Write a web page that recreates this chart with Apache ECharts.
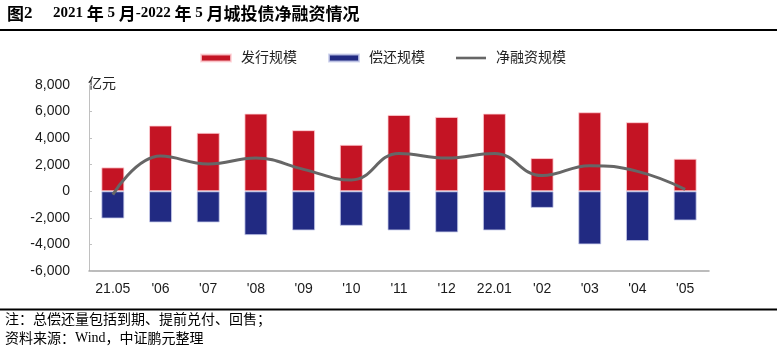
<!DOCTYPE html>
<html>
<head>
<meta charset="utf-8">
<style>
  html, body { margin: 0; padding: 0; background: #fff; }
  #chart { width: 778px; height: 353px; }
</style>
</head>
<body>
<div id="chart"></div>
<script src="https://cdn.jsdelivr.net/npm/echarts@6/dist/echarts.min.js"></script>
<script>
// 月份
var months = ['21.05', "'06", "'07", "'08", "'09", "'10", "'11", "'12", '22.01', "'02", "'03", "'04", "'05"];
// 发行规模 (亿元)
var issue = [1800, 4950, 4400, 5850, 4600, 3500, 5750, 5600, 5850, 2500, 5950, 5200, 2450];
// 偿还规模 (亿元, 负值)
var repay = [-2050, -2350, -2350, -3300, -2950, -2600, -2950, -3100, -2950, -1250, -4000, -3750, -2200];
// 净融资规模 (亿元)
var net = [-250, 2650, 2050, 2500, 1650, 850, 2850, 2500, 2850, 1180, 1930, 1500, 150];

var yMin = -6000, yMax = 8000, yStep = 2000;

var cjk = '"Liberation Sans", "Noto Sans CJK SC", sans-serif';
var cnBold = '"Noto Sans CJK SC", sans-serif';
var numBold = '"Liberation Serif", "Times New Roman", serif';

var myChart = echarts.init(document.getElementById('chart'));

var option = {
    backgroundColor: '#fff',
    animation: false,
    legend: {
        left: 195,
        top: 46,
        itemWidth: 30,
        itemHeight: 7,
        itemGap: 31,
        textStyle: { fontSize: 14, color: '#222', fontFamily: cjk, padding: [0, 0, 0, 5] },
        data: [
            { name: '发行规模', icon: 'rect' },
            { name: '偿还规模', icon: 'rect' },
            { name: '净融资规模', icon: 'path://M0,0H30V2.6H0Z' }
        ]
    },
    grid: { left: 89, right: 69, top: 85, bottom: 82 },
    xAxis: [{
        type: 'category',
        data: months,
        axisLine: { show: false },
        axisTick: { show: false },
        axisLabel: { fontSize: 14, color: '#1a1a1a', fontFamily: '"Liberation Sans", Arial', margin: 11, interval: 0 }
    }, {
        // 零轴
        type: 'category',
        data: months,
        position: 'bottom',
        axisLine: { onZero: true, lineStyle: { color: '#a6a6a6', width: 1.5 } },
        axisTick: { show: false },
        axisLabel: { show: false }
    }],
    yAxis: {
        type: 'value',
        min: yMin,
        max: yMax,
        interval: yStep,
        name: '亿元',
        nameLocation: 'end',
        nameGap: 1,
        nameTextStyle: { fontSize: 14, color: '#222', fontFamily: cjk, align: 'left', verticalAlign: 'middle', padding: [0, 0, 0, -1] },
        axisLine: { show: true, lineStyle: { color: '#c0c0c0', width: 1 } },
        axisTick: { show: true, inside: true, length: 3, lineStyle: { color: '#c0c0c0' } },
        splitLine: { show: false },
        axisLabel: {
            fontSize: 14, color: '#1a1a1a', fontFamily: '"Liberation Sans", Arial', margin: 19,
            formatter: function (v) { return v.toLocaleString('en-US'); }
        }
    },
    series: [{
        name: '发行规模',
        type: 'bar',
        stack: 'total',
        barWidth: 23,
        itemStyle: { color: '#c41424', borderColor: 'rgba(255,210,215,0.8)', borderWidth: 1 },
        data: issue
    }, {
        name: '偿还规模',
        type: 'bar',
        stack: 'total',
        barWidth: 23,
        itemStyle: { color: '#212a82', borderColor: 'rgba(200,205,235,0.8)', borderWidth: 1 },
        data: repay
    }, {
        name: '净融资规模',
        type: 'line',
        smooth: 0.45,
        symbol: 'none',
        itemStyle: { color: '#666666' },
        lineStyle: { color: '#666666', width: 3 },
        z: 5,
        data: net
    }],
    graphic: [
        { type: 'text', left: 7, top: 5, style: {
            text: '{c|图}{n|2}',
            rich: {
                c: { fontSize: 17, fontWeight: 'bold', fontFamily: cnBold, color: '#000' },
                n: { fontSize: 17, fontWeight: 'bold', fontFamily: numBold, color: '#000' }
            }
        } },
        { type: 'text', left: 53, top: 5, style: {
            text: '{n|2021 }{c|年}{n| 5 }{c|月}{n|-2022 }{c|年}{n| 5 }{c|月城投债净融资情况}',
            rich: {
                c: { fontSize: 17, fontWeight: 'bold', fontFamily: cnBold, color: '#000' },
                n: { fontSize: 15, fontWeight: 'bold', fontFamily: numBold, color: '#000' }
            }
        } },
        { type: 'line', shape: { x1: 0, y1: 30, x2: 777, y2: 30 }, style: { stroke: '#000', lineWidth: 2 } },
        { type: 'line', shape: { x1: 0, y1: 309.5, x2: 777, y2: 309.5 }, style: { stroke: '#000', lineWidth: 2 } },
        { type: 'text', left: 5, top: 312, style: { text: '注：总偿还量包括到期、提前兑付、回售；', font: '14px "Noto Sans CJK SC", sans-serif', fill: '#000' } },
        { type: 'text', left: 5, top: 331, style: {
            text: '{a|资料来源：}{w|Wind}{a|，中证鹏元整理}',
            rich: {
                a: { fontSize: 14, fontFamily: '"Noto Sans CJK SC", sans-serif', color: '#000' },
                w: { fontSize: 14, fontFamily: '"Liberation Serif", serif', color: '#1f2f80' }
            }
        } }
    ]
};

myChart.setOption(option);
window.addEventListener('resize', function () {
    myChart.resize();
});
</script>
</body>
</html>
